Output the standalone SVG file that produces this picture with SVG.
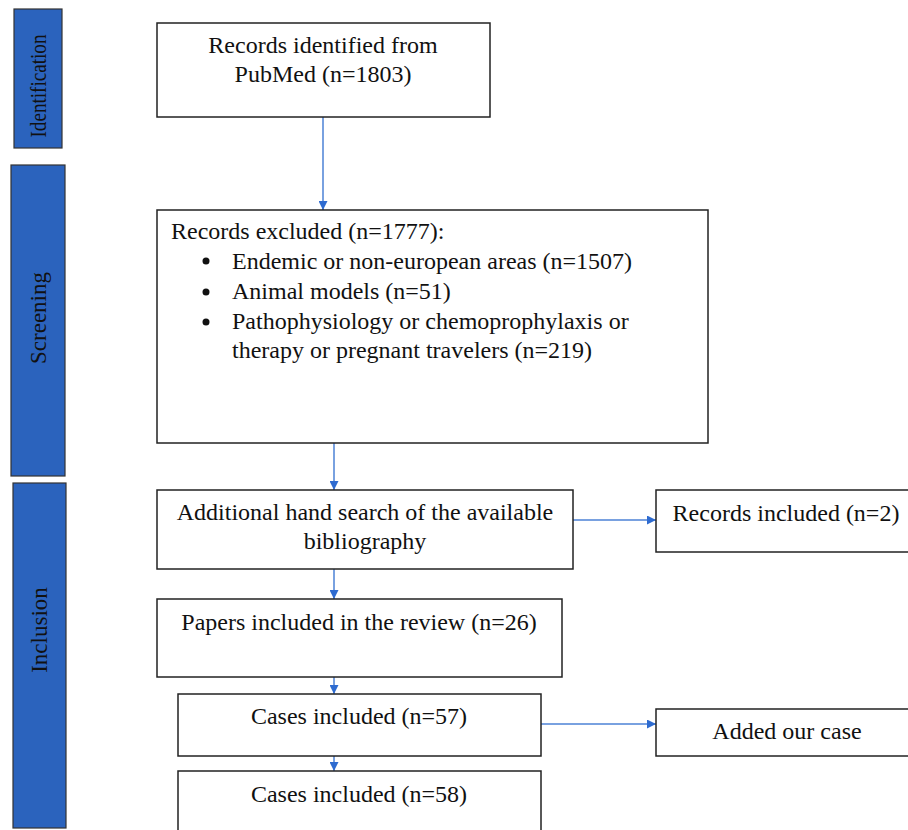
<svg xmlns="http://www.w3.org/2000/svg" width="908" height="830" viewBox="0 0 908 830">
<style>
.side{fill:#2b63bd;stroke:#333;stroke-width:1.2}
.box{fill:#fff;stroke:#222;stroke-width:1.5}
.t{font-family:"Liberation Serif","Times New Roman",serif;font-size:24px;fill:#111}
.c{text-anchor:middle}
.st{font-family:"Liberation Serif","Times New Roman",serif;font-size:23px;fill:#111;text-anchor:middle}
.ln{stroke:#4d82d6;stroke-width:1.5;fill:none}
</style>
<defs>
<marker id="ah" viewBox="0 0 10 10" refX="10" refY="5" markerWidth="9" markerHeight="9" markerUnits="userSpaceOnUse" orient="auto">
<path d="M0,0 L10,5 L0,10 Z" fill="#2e6bd0"/>
</marker>
</defs>
<g id="identification"><rect class="side" x="14" y="9" width="48" height="139"/><text class="st" transform="translate(46,86) rotate(-90)" textLength="103" lengthAdjust="spacingAndGlyphs">Identification</text></g>
<g id="screening"><rect class="side" x="11" y="165" width="54" height="311"/><text class="st" transform="translate(46,318) rotate(-90)">Screening</text></g>
<g id="inclusion"><rect class="side" x="13" y="483" width="53" height="345"/><text class="st" transform="translate(47,630) rotate(-90)">Inclusion</text></g>

<g id="connectors">
<line class="ln" x1="323" y1="117" x2="323" y2="210" marker-end="url(#ah)"/>
<line class="ln" x1="334" y1="443" x2="334" y2="490" marker-end="url(#ah)"/>
<line class="ln" x1="573" y1="520" x2="656" y2="520" marker-end="url(#ah)"/>
<line class="ln" x1="334" y1="569" x2="334" y2="599" marker-end="url(#ah)"/>
<line class="ln" x1="334" y1="677" x2="334" y2="694" marker-end="url(#ah)"/>
<line class="ln" x1="541" y1="724" x2="656" y2="724" marker-end="url(#ah)"/>
<line class="ln" x1="334" y1="756" x2="334" y2="771" marker-end="url(#ah)"/>
</g>

<g id="n1"><rect class="box" x="157" y="23" width="333" height="94"/>
<text class="t c" x="323" y="53">Records identified from</text>
<text class="t c" x="323" y="82">PubMed (n=1803)</text></g>

<g id="n2"><rect class="box" x="157" y="210" width="551" height="233"/>
<text class="t" x="171" y="239">Records excluded (n=1777):</text>
<circle cx="206" cy="261" r="3.5" fill="#111"/>
<circle cx="206" cy="292" r="3.5" fill="#111"/>
<circle cx="206" cy="322" r="3.5" fill="#111"/>
<text class="t" x="232" y="269">Endemic or non-european areas (n=1507)</text>
<text class="t" x="232" y="299">Animal models (n=51)</text>
<text class="t" x="232" y="329">Pathophysiology or chemoprophylaxis or</text>
<text class="t" x="232" y="358">therapy or pregnant travelers (n=219)</text></g>

<g id="n3"><rect class="box" x="157" y="490" width="416" height="79"/>
<text class="t c" x="365" y="520">Additional hand search of the available</text>
<text class="t c" x="365" y="549">bibliography</text></g>

<g id="n4"><rect class="box" x="656" y="490" width="258" height="62"/>
<text class="t c" x="786" y="521">Records included (n=2)</text></g>

<g id="n5"><rect class="box" x="157" y="599" width="405" height="78"/>
<text class="t c" x="359" y="630">Papers included in the review (n=26)</text></g>

<g id="n6"><rect class="box" x="178" y="694" width="363" height="62"/>
<text class="t c" x="359" y="724">Cases included (n=57)</text></g>

<g id="n7"><rect class="box" x="656" y="709" width="258" height="47"/>
<text class="t c" x="787" y="739">Added our case</text></g>

<g id="n8"><rect class="box" x="178" y="771" width="363" height="70"/>
<text class="t c" x="359" y="802">Cases included (n=58)</text></g>
</svg>
